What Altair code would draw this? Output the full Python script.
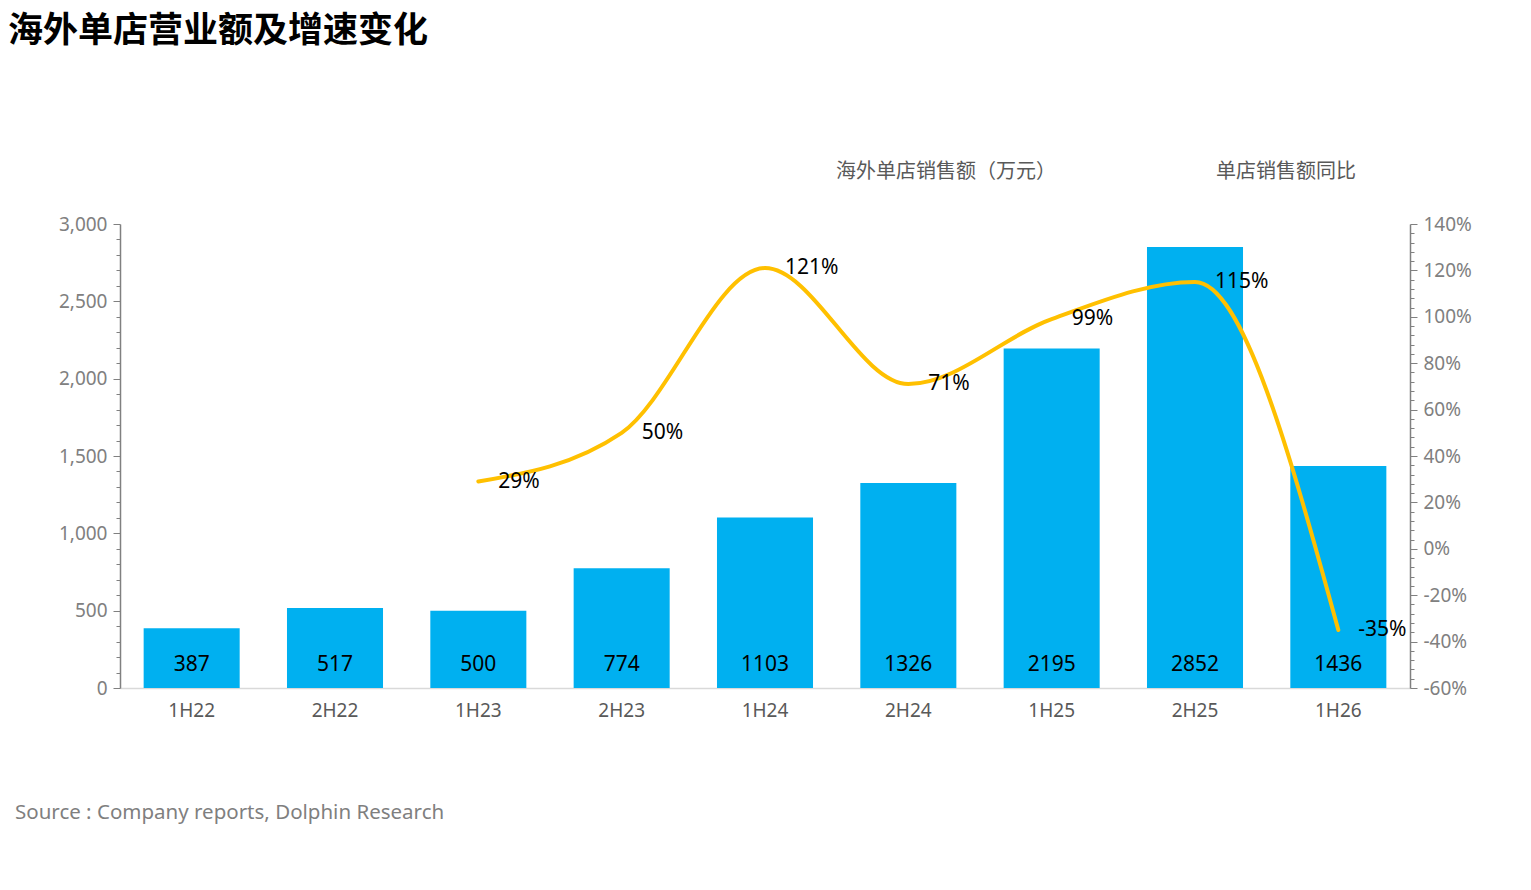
import altair as alt
import pandas as pd

periods = ["1H22", "2H22", "1H23", "2H23", "1H24", "2H24", "1H25", "2H25", "1H26"]
sales = [387, 517, 500, 774, 1103, 1326, 2195, 2852, 1436]
growth = [None, None, 29, 50, 121, 71, 99, 115, -35]

bar_name = "海外单店销售额（万元）"
line_name = "单店销售额同比"
title_text = "海外单店营业额及增速变化"
source_text = "Source : Company reports, Dolphin Research"

left_ticks = list(range(0, 3001, 100))
right_ticks = list(range(-60, 141, 4))

df = pd.DataFrame({"period": periods, "sales": sales, "growth": growth})

FONT = "Noto Sans, Noto Sans CJK SC"
GRAY = "#808080"

x_enc = alt.X("period:N", sort=periods,
              scale=alt.Scale(paddingInner=0.33),
              axis=alt.Axis(title=None, labelAngle=0, ticks=False, domainColor="#D9D9D9",
                            domainWidth=1.5, labelColor="#595959", labelFontSize=19,
                            labelPadding=13))

color_scale = alt.Scale(domain=[bar_name, line_name], range=["#00B0F0", "#FFC000"])
legend = alt.Legend(title=None, orient="none", direction="horizontal",
                    legendX=692, legendY=-62, symbolOpacity=0, symbolSize=0,
                    labelOffset=4, columnPadding=136, labelFontSize=20,
                    labelLimit=0, labelColor="#595959", padding=0,
                    labelFont="Noto Sans CJK SC")

y_left = alt.Y("sales:Q",
               scale=alt.Scale(domain=[0, 3000], nice=False),
               axis=alt.Axis(title=None, grid=False, values=left_ticks, tickCount=200,
                             labelExpr="datum.value % 500 === 0 ? format(datum.value, ',') : ''",
                             tickSize={"condition": {"test": "datum.value % 500 === 0", "value": 7}, "value": 4},
                             labelOverlap=False, domainColor=GRAY, tickColor=GRAY,
                             labelColor=GRAY, labelFontSize=19, labelPadding=6,
                             domainWidth=1.5))

bars = alt.Chart(df).transform_calculate(series=f"'{bar_name}'").mark_bar(
    color="#00B0F0").encode(
    x=x_enc,
    y=y_left,
    color=alt.Color("series:N", scale=color_scale, legend=legend),
)

bar_text = alt.Chart(df).mark_text(fontSize=21, color="#000000", baseline="middle",
                                   dy=-23).encode(
    x=alt.X("period:N", sort=periods),
    y=alt.datum(0),
    text=alt.Text("sales:Q", format="d"),
)

left = alt.layer(bars, bar_text)

y_right = alt.Y("growth:Q",
                scale=alt.Scale(domain=[-60, 140], nice=False),
                axis=alt.Axis(title=None, grid=False, orient="right",
                              values=right_ticks, tickCount=200,
                              labelExpr="datum.value % 20 === 0 ? datum.value + '%' : ''",
                              tickSize={"condition": {"test": "datum.value % 20 === 0", "value": 7}, "value": 4},
                              labelOverlap=False, domainColor=GRAY, tickColor=GRAY,
                              labelColor=GRAY, labelFontSize=19, labelPadding=6,
                              domainWidth=1.5))

line = alt.Chart(df).transform_filter("isValid(datum.growth)").transform_calculate(
    series=f"'{line_name}'").mark_line(interpolate="monotone", strokeWidth=4,
                                       strokeCap="round").encode(
    x=alt.X("period:N", sort=periods),
    y=y_right,
    color=alt.Color("series:N", scale=color_scale, legend=legend),
)

line_text = alt.Chart(df).transform_filter("isValid(datum.growth)").transform_calculate(
    label="datum.growth + '%'").mark_text(fontSize=21, color="#000000", align="left",
                                          baseline="middle", dx=20).encode(
    x=alt.X("period:N", sort=periods),
    y=alt.Y("growth:Q"),
    text="label:N",
)

right = alt.layer(line, line_text)

source = alt.Chart(pd.DataFrame({"t": [source_text]})).mark_text(
    fontSize=20.5, color="#7F7F7F", align="left", baseline="middle").encode(
    x=alt.value(-105), y=alt.value(589), text="t:N")

chart = alt.layer(left, right, source).resolve_scale(y="independent").properties(
    width=1290, height=464,
    padding={"left": 112, "top": 216, "right": 100, "bottom": 180},
    autosize=alt.AutoSizeParams(type="none"),
    title=alt.TitleParams(title_text, anchor="start", frame="group", dx=-112, dy=-109,
                          fontSize=35, fontWeight="bold", color="#000000",
                          font="Noto Sans CJK SC"),
).configure(font=FONT).configure_view(stroke=None)

chart.save("out.html", embed_options={"renderer": "svg", "actions": False})
